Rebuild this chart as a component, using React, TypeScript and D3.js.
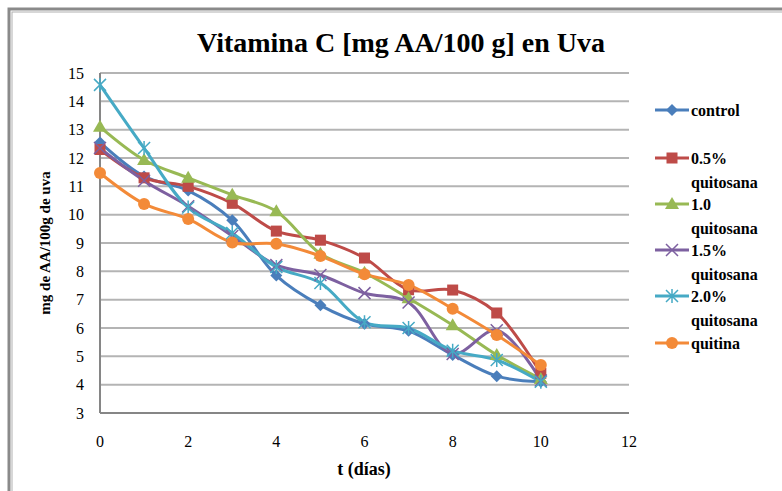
import React, { useEffect, useRef } from "react";
import * as d3 from "d3";

// días de almacenamiento
const days = [0, 1, 2, 3, 4, 5, 6, 7, 8, 9, 10];

const seriesNames = ["control", "0.5% quitosana", "1.0 quitosana", "1.5% quitosana", "2.0% quitosana", "quitina"];
const seriesColors = ["#4A7EBB", "#BE4B48", "#98B954", "#7D60A0", "#46AAC5", "#F38A38"];
const seriesMarkers = ["diamond", "square", "triangle", "x", "star", "circle"];

const control = [12.55, 11.35, 10.85, 9.8, 7.85, 6.8, 6.15, 5.9, 5.05, 4.3, 4.1];
const quitosana05 = [12.3, 11.3, 11.0, 10.4, 9.42, 9.1, 8.47, 7.35, 7.34, 6.53, 4.4];
const quitosana10 = [13.1, 11.93, 11.3, 10.7, 10.12, 8.62, 7.95, 7.05, 6.1, 5.05, 4.2];
const quitosana15 = [12.35, 11.2, 10.3, 9.25, 8.22, 7.87, 7.23, 6.9, 5.08, 5.92, 4.15];
const quitosana20 = [14.58, 12.35, 10.25, 9.35, 8.15, 7.59, 6.2, 6.0, 5.2, 4.87, 4.1];
const quitina = [11.47, 10.38, 9.85, 9.02, 8.97, 8.54, 7.9, 7.52, 6.68, 5.75, 4.69];

const seriesValues = [control, quitosana05, quitosana10, quitosana15, quitosana20, quitina];

const yTicks = [3, 4, 5, 6, 7, 8, 9, 10, 11, 12, 13, 14, 15];
const xTicks = [0, 2, 4, 6, 8, 10, 12];

const drawMarker = (g, type, x, y, color) => {
  if (type === "diamond") {
    g.append("path").attr("d", `M${x},${y - 6}L${x + 6},${y}L${x},${y + 6}L${x - 6},${y}Z`).attr("fill", color);
  } else if (type === "square") {
    g.append("rect").attr("x", x - 5.5).attr("y", y - 5.5).attr("width", 11).attr("height", 11).attr("fill", color);
  } else if (type === "triangle") {
    g.append("path").attr("d", `M${x},${y - 7}L${x + 7},${y + 5}L${x - 7},${y + 5}Z`).attr("fill", color);
  } else if (type === "circle") {
    g.append("circle").attr("cx", x).attr("cy", y).attr("r", 6).attr("fill", color);
  } else if (type === "x") {
    g.append("path").attr("d", `M${x - 6},${y - 6}L${x + 6},${y + 6}M${x - 6},${y + 6}L${x + 6},${y - 6}`)
      .attr("stroke", color).attr("stroke-width", 1.5);
  } else if (type === "star") {
    g.append("path")
      .attr("d", `M${x - 6},${y - 6}L${x + 6},${y + 6}M${x - 6},${y + 6}L${x + 6},${y - 6}M${x},${y - 7}L${x},${y + 7}`)
      .attr("stroke", color).attr("stroke-width", 1.5);
  }
};

const App = () => {
  const ref = useRef(null);

  useEffect(() => {
    const svg = d3.select(ref.current);
    svg.selectAll("*").remove();

    const width = 782;
    const height = 491;
    const margin = { top: 73, right: 153, bottom: 78, left: 100 };

    const x = d3.scaleLinear().domain([0, 12]).range([margin.left, width - margin.right]);
    const y = d3.scaleLinear().domain([3, 15]).range([height - margin.bottom, margin.top]);

    svg.append("rect").attr("width", width).attr("height", height).attr("fill", "#fff");

    // marco
    svg.append("rect").attr("x", 9).attr("y", 9).attr("width", width + 20).attr("height", height + 20)
      .attr("fill", "none").attr("stroke", "#8a8a8a").attr("stroke-width", 3);
    svg.append("rect").attr("x", 12).attr("y", 12).attr("width", width + 20).attr("height", height + 20)
      .attr("fill", "none").attr("stroke", "#b0b0b0").attr("stroke-width", 1);

    // rejilla
    svg.append("g")
      .selectAll("line")
      .data(yTicks.slice(1))
      .join("line")
      .attr("x1", x(0))
      .attr("x2", x(12))
      .attr("y1", (d) => y(d))
      .attr("y2", (d) => y(d))
      .attr("stroke", "#b4b4b4")
      .attr("stroke-width", 2);

    // ejes
    svg.append("line").attr("x1", x(0)).attr("x2", x(12)).attr("y1", y(3)).attr("y2", y(3))
      .attr("stroke", "#868686").attr("stroke-width", 2);
    svg.append("line").attr("x1", x(0)).attr("x2", x(0)).attr("y1", y(3)).attr("y2", y(15))
      .attr("stroke", "#868686").attr("stroke-width", 2);

    const tickFont = '"Liberation Serif"';

    svg.append("g")
      .selectAll("text")
      .data(yTicks)
      .join("text")
      .attr("x", 84)
      .attr("y", (d) => y(d))
      .attr("dy", "0.35em")
      .attr("text-anchor", "end")
      .style("font-family", tickFont)
      .style("font-size", "16px")
      .text((d) => d);

    svg.append("g")
      .selectAll("text")
      .data(xTicks)
      .join("text")
      .attr("x", (d) => x(d))
      .attr("y", 441)
      .attr("dy", "0.35em")
      .attr("text-anchor", "middle")
      .style("font-family", tickFont)
      .style("font-size", "16px")
      .text((d) => d);

    // series
    const line = d3.line().curve(d3.curveCatmullRom.alpha(0.5));
    const plot = svg.append("g");
    seriesValues.forEach((vals, i) => {
      plot.append("path")
        .attr("d", line(days.map((d, j) => [x(d), y(vals[j])])))
        .attr("fill", "none")
        .attr("stroke", seriesColors[i])
        .attr("stroke-width", 3);
    });
    seriesValues.forEach((vals, i) => {
      days.forEach((d, j) => drawMarker(plot, seriesMarkers[i], x(d), y(vals[j]), seriesColors[i]));
    });

    // títulos
    svg.append("text")
      .attr("x", 401)
      .attr("y", 42)
      .attr("dy", "0.35em")
      .attr("text-anchor", "middle")
      .style("font-family", tickFont)
      .style("font-weight", "bold")
      .style("font-size", "28px")
      .text("Vitamina C [mg AA/100 g] en Uva");

    svg.append("text")
      .attr("x", 364)
      .attr("y", 469)
      .attr("dy", "0.35em")
      .attr("text-anchor", "middle")
      .style("font-family", tickFont)
      .style("font-weight", "bold")
      .style("font-size", "18px")
      .text("t (días)");

    svg.append("text")
      .attr("transform", `translate(45,243) rotate(-90)`)
      .attr("dy", "0.35em")
      .attr("text-anchor", "middle")
      .style("font-family", tickFont)
      .style("font-weight", "bold")
      .style("font-size", "15px")
      .text("mg de AA/100g de uva");

    // leyenda
    const legendY = [110, 158, 204, 250, 296, 343];
    const legend = svg.append("g");
    seriesNames.forEach((name, i) => {
      const ly = legendY[i];
      legend.append("line").attr("x1", 655).attr("x2", 689).attr("y1", ly).attr("y2", ly)
        .attr("stroke", seriesColors[i]).attr("stroke-width", 3);
      drawMarker(legend, seriesMarkers[i], 672, ly, seriesColors[i]);
      const parts = name.split(" ");
      const t = legend.append("text")
        .attr("x", 691)
        .attr("y", ly)
        .attr("dy", "0.35em")
        .style("font-family", tickFont)
        .style("font-weight", "bold")
        .style("font-size", "16px");
      if (i === 0 || i === 5) {
        t.text(name);
      } else {
        t.append("tspan").attr("x", 691).text(parts[0]);
        t.append("tspan").attr("x", 691).attr("dy", "1.5em").text(parts[1]);
      }
    });
  }, []);

  return <svg ref={ref} width={782} height={491} style={{ position: "absolute", left: 0, top: 0 }} />;
};

export default App;
